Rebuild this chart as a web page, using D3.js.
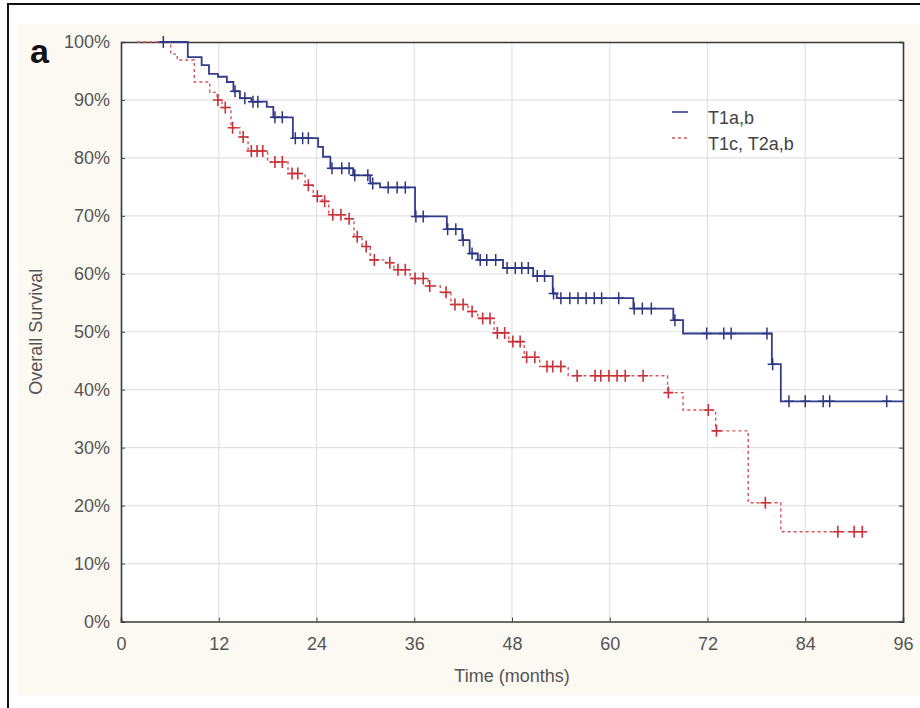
<!DOCTYPE html>
<html>
<head>
<meta charset="utf-8">
<script src="https://cdn.jsdelivr.net/npm/d3@7"></script>
<style>
  body { margin: 0; background: #fff; }
  svg { display: block; }
  svg text { font-family: "Liberation Sans", Arial, sans-serif; }
</style>
</head>
<body>
<div id="chart"></div>
<script>

// Kaplan-Meier steps (months, % surviving after the step)
var blueTime = [4.8, 8.2, 9.9, 10.8, 11.9, 13.0, 13.8, 14.6, 16.0, 17.9, 18.7, 21.1, 24.2, 24.8, 25.7, 28.5, 30.6, 31.8, 36.1, 40.0, 41.9, 42.8, 43.8, 46.9, 50.6, 53.0, 53.5, 62.9, 67.8, 69.0, 79.9, 81.0];
var blueSurv = [100, 97.4, 96.0, 94.5, 94.0, 93.1, 91.5, 90.3, 89.7, 88.8, 87.0, 83.4, 81.9, 80.2, 78.2, 77.0, 75.6, 74.9, 69.9, 67.7, 65.8, 63.5, 62.4, 61.0, 59.6, 56.6, 55.8, 54.0, 52.0, 49.7, 44.4, 38.0];
var blueEnd = 96;
var blueCensor = [5.2, 14.0, 15.2, 16.2, 16.8, 18.9, 19.8, 21.4, 22.3, 23.0, 25.9, 27.1, 28.0, 28.7, 30.3, 30.9, 32.8, 33.9, 34.9, 36.2, 37.1, 40.1, 41.1, 42.0, 43.1, 44.1, 44.9, 46.0, 47.4, 48.4, 49.2, 50.0, 51.1, 52.0, 53.1, 54.0, 55.1, 56.1, 57.1, 58.1, 59.0, 61.1, 63.0, 64.0, 65.1, 68.0, 71.9, 74.0, 74.9, 79.3, 80.0, 82.0, 84.0, 86.2, 87.0, 94.0];

var redTime = [2.0, 6.1, 6.9, 9.0, 10.9, 11.8, 12.4, 13.5, 14.6, 15.6, 18.0, 20.5, 22.6, 23.6, 24.7, 25.5, 27.6, 28.6, 29.6, 30.6, 32.5, 33.5, 35.5, 37.7, 39.2, 40.5, 42.6, 43.8, 45.8, 47.6, 49.5, 51.4, 54.9, 67.1, 69.0, 73.0, 77.0, 81.0];
var redSurv = [100, 97.9, 96.9, 93.1, 91.3, 90.0, 88.7, 85.2, 83.6, 81.2, 79.3, 77.3, 75.3, 73.4, 72.5, 70.2, 69.5, 66.4, 64.7, 62.4, 61.9, 60.7, 59.2, 57.9, 56.8, 54.7, 53.5, 52.3, 49.8, 48.3, 45.6, 44.0, 42.4, 39.5, 36.5, 32.9, 20.5, 15.5];
var redEnd = 91.5;
var redCensor = [11.9, 12.8, 13.7, 15.0, 16.0, 16.7, 17.4, 18.9, 19.8, 21.0, 21.7, 23.0, 24.1, 25.0, 26.0, 27.0, 28.0, 29.0, 30.1, 31.1, 33.0, 34.0, 34.9, 36.1, 37.1, 37.9, 39.9, 41.0, 42.0, 43.1, 44.4, 45.3, 46.2, 47.1, 48.1, 49.0, 49.8, 50.8, 52.3, 53.0, 54.0, 56.0, 58.2, 58.9, 59.9, 60.9, 61.9, 64.1, 67.2, 72.1, 73.1, 79.1, 88.0, 90.0, 91.0];

var seriesNames = ["T1a,b", "T1c, T2a,b"];
var xTicks = [0, 12, 24, 36, 48, 60, 72, 84, 96];
var yTicks = [0, 10, 20, 30, 40, 50, 60, 70, 80, 90, 100];

var width = 920, height = 708;
var margin = {top: 42, right: 17, bottom: 86.5, left: 121};
var w = width - margin.left - margin.right,
    h = height - margin.top - margin.bottom;

var svg = d3.select("#chart").append("svg")
    .attr("width", width)
    .attr("height", height);

// outer frame and cream panel
svg.append("rect").attr("x", 18).attr("y", 24).attr("width", 902).attr("height", 671).attr("fill", "#fcf9f2");
svg.append("line").attr("x1", 7).attr("x2", 920).attr("y1", 4).attr("y2", 4).attr("stroke", "#111").attr("stroke-width", 2);
svg.append("line").attr("x1", 8).attr("x2", 8).attr("y1", 4).attr("y2", 708).attr("stroke", "#111").attr("stroke-width", 2);

var g = svg.append("g").attr("transform", "translate(" + margin.left + "," + margin.top + ")");

var x = d3.scaleLinear().domain([0, 96]).range([0, w]);
var y = d3.scaleLinear().domain([0, 100]).range([h, 0]);

g.append("rect").attr("width", w).attr("height", h).attr("fill", "#fff");

// grid
g.append("g").selectAll("line").data(xTicks.slice(1, -1)).enter().append("line")
    .attr("x1", function(d) { return x(d); }).attr("x2", function(d) { return x(d); })
    .attr("y1", 0).attr("y2", h)
    .attr("stroke", "#e2e2e2").attr("stroke-width", 1.2);
g.append("g").selectAll("line").data(yTicks.slice(1, -1)).enter().append("line")
    .attr("y1", function(d) { return y(d); }).attr("y2", function(d) { return y(d); })
    .attr("x1", 0).attr("x2", w)
    .attr("stroke", "#e2e2e2").attr("stroke-width", 1.2);

// axes (inner ticks)
var xAxis = g.append("g").attr("transform", "translate(0," + h + ")")
    .call(d3.axisBottom(x).tickValues(xTicks).tickSize(-4).tickPadding(11));
var yAxis = g.append("g")
    .call(d3.axisLeft(y).tickValues(yTicks).tickSize(-4).tickPadding(11).tickFormat(function(d) { return d + "%"; }));
g.append("g").attr("transform", "translate(" + w + ",0)")
    .call(d3.axisRight(y).tickValues(yTicks).tickSize(-4).tickFormat(""));
g.append("g")
    .call(d3.axisTop(x).tickValues(xTicks).tickSize(0).tickFormat(""));

g.selectAll(".domain").attr("stroke", "#3a3a3a").attr("stroke-width", 1.6);
g.selectAll(".tick line").attr("stroke", "#444");
g.selectAll(".tick text").attr("font-size", 18).attr("fill", "#555")
    .attr("font-family", "'Liberation Sans', Arial, sans-serif");
xAxis.selectAll(".tick text").attr("dy", "0.95em");

// step curves
var line = d3.line()
    .x(function(d) { return x(d[0]); })
    .y(function(d) { return y(d[1]); })
    .curve(d3.curveStepAfter);

function steps(times, surv, end) {
    var pts = times.map(function(t, i) { return [t, surv[i]]; });
    pts.push([end, surv[surv.length - 1]]);
    return pts;
}

function survAt(times, surv, t) {
    var i = d3.bisectRight(times, t) - 1;
    return surv[Math.max(i, 0)];
}

function censorMarks(times, surv, cens, color, sw) {
    g.append("g").selectAll("path").data(cens).enter().append("path")
        .attr("d", function(t) {
            var cx = x(t), cy = y(survAt(times, surv, t));
            return "M" + (cx - 5) + "," + cy + "H" + (cx + 5) +
                   "M" + cx + "," + (cy - 6) + "V" + (cy + 6);
        })
        .attr("stroke", color).attr("stroke-width", sw).attr("fill", "none");
}

var redColor = "#d2555a", blueColor = "#333d8c";

g.append("path").datum(steps(redTime, redSurv, redEnd))
    .attr("d", line).attr("fill", "none")
    .attr("stroke", redColor).attr("stroke-width", 1.4).attr("stroke-dasharray", "3,3");
censorMarks(redTime, redSurv, redCensor, "#c8323a", 1.6);

g.append("path").datum(steps(blueTime, blueSurv, blueEnd))
    .attr("d", line).attr("fill", "none")
    .attr("stroke", blueColor).attr("stroke-width", 1.8);
censorMarks(blueTime, blueSurv, blueCensor, "#2d3680", 1.5);

// legend
var legend = svg.append("g").attr("transform", "translate(672,112)");
legend.append("line").attr("x1", 0).attr("x2", 16).attr("y1", 0).attr("y2", 0)
    .attr("stroke", blueColor).attr("stroke-width", 1.6);
legend.append("line").attr("x1", 0).attr("x2", 16).attr("y1", 26).attr("y2", 26)
    .attr("stroke", redColor).attr("stroke-width", 1.4).attr("stroke-dasharray", "3,3");
legend.selectAll("text").data(seriesNames).enter().append("text")
    .attr("x", 36).attr("y", function(d, i) { return i * 26 + 12; })
    .attr("font-size", 18).attr("fill", "#444")
    .text(function(d) { return d; });

// titles
svg.append("text").attr("x", margin.left + w / 2).attr("y", 682)
    .attr("text-anchor", "middle").attr("font-size", 18).attr("fill", "#555")
    .text("Time (months)");
svg.append("text")
    .attr("transform", "translate(42," + (margin.top + h / 2) + ") rotate(-90)")
    .attr("text-anchor", "middle").attr("font-size", 18).attr("fill", "#555")
    .text("Overall Survival");
svg.append("text").attr("x", 30).attr("y", 63)
    .attr("font-size", 34).attr("font-weight", "bold").attr("fill", "#111")
    .style("font-family", "'Liberation Sans', Arial, sans-serif")
    .text("a");

</script>
</body>
</html>
